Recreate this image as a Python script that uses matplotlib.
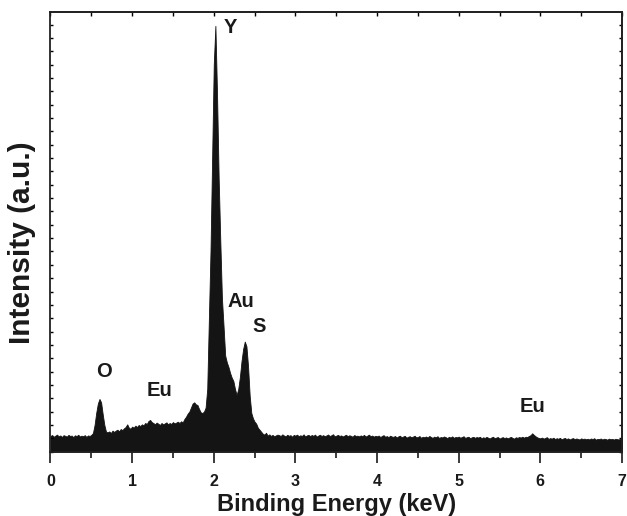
"""
EDS spectrum - Y / Au / S / O / Eu
"""
import numpy as np
import matplotlib
matplotlib.use("Agg")
import matplotlib.pyplot as plt
from matplotlib.ticker import MultipleLocator

plt.rcParams["font.family"] = ["Liberation Sans", "DejaVu Sans"]
plt.rcParams["font.weight"] = "bold"

# channel width of the spectrum (keV); counts start at 0 keV
CHANNEL_WIDTH = 0.02

# counts per channel, 0.00 .. 7.00 keV (10 channels per row = 0.2 keV)
COUNTS = [
    118, 125, 112, 120, 128, 115, 122, 110, 124, 119,   # 0.0
    113, 126, 118, 121, 109, 123, 117, 127, 114, 120,   # 0.2
    116, 124, 111, 122, 118, 126, 140, 200, 290, 360,   # 0.4
    395, 370, 280, 200, 150, 145, 152, 140, 158, 148,   # 0.6
    158, 165, 152, 170, 162, 175, 185, 205, 180, 172,   # 0.8
    188, 180, 195, 185, 200, 192, 205, 198, 215, 208,   # 1.0
    230, 238, 222, 215, 205, 218, 210, 200, 215, 205,   # 1.2
    212, 220, 205, 215, 208, 222, 212, 218, 225, 215,   # 1.4
    228, 220, 245, 262, 285, 300, 330, 360, 370, 355,   # 1.6
    350, 320, 295, 290, 300, 330, 470, 990, 1500, 2200,  # 1.8
    2900, 3190, 2680, 2050, 1580, 1150, 940, 720, 670, 635,  # 2.0
    590, 555, 530, 470, 425, 470, 560, 680, 770, 825,   # 2.2
    790, 640, 420, 290, 250, 225, 210, 180, 165, 150,   # 2.4
    135, 128, 142, 120, 130, 118, 126, 115, 122, 128,   # 2.6
    124, 118, 130, 121, 115, 127, 119, 124, 112, 126,   # 2.8
    120, 128, 116, 123, 118, 130, 114, 122, 126, 117,   # 3.0
    125, 119, 128, 113, 121, 127, 118, 124, 116, 122,   # 3.2
    129, 117, 123, 131, 115, 120, 126, 118, 122, 114,   # 3.4
    121, 127, 116, 123, 119, 112, 125, 118, 120, 115,   # 3.6
    122, 117, 126, 114, 120, 128, 116, 121, 113, 119,   # 3.8
    115, 121, 110, 118, 124, 112, 117, 109, 120, 114,   # 4.0
    111, 118, 106, 115, 120, 108, 114, 119, 105, 112,   # 4.2
    116, 109, 113, 120, 107, 111, 117, 104, 112, 108,   # 4.4
    114, 106, 118, 110, 104, 113, 108, 116, 103, 110,   # 4.6
    107, 114, 109, 102, 112, 106, 115, 104, 110, 108,   # 4.8
    113, 105, 110, 116, 103, 109, 112, 101, 108, 111,   # 5.0
    104, 110, 106, 112, 100, 108, 103, 111, 105, 99,    # 5.2
    107, 112, 101, 106, 110, 98, 105, 109, 102, 107,    # 5.4
    100, 106, 111, 103, 98, 108, 104, 110, 106, 112,    # 5.6
    105, 112, 110, 118, 124, 138, 126, 116, 108, 103,   # 5.8
    100, 106, 98, 103, 109, 96, 102, 98, 105, 95,       # 6.0
    101, 97, 104, 93, 99, 103, 95, 100, 92, 98,         # 6.2
    102, 94, 99, 96, 91, 100, 95, 98, 93, 97,           # 6.4
    92, 99, 95, 101, 90, 96, 94, 99, 91, 97,            # 6.6
    95, 90, 98, 93, 96, 91, 97, 94, 92, 96,             # 6.8
    98,                                                 # 7.0
]

# peak labels: (text, energy keV, counts)
PEAK_LABELS = [
    ("Y", 2.20, 3180),
    ("Au", 2.33, 1125),
    ("S", 2.55, 935),
    ("O", 0.655, 600),
    ("Eu", 1.34, 455),
    ("Eu", 5.90, 335),
]

FILL_COLOR = "#141414"

energy = np.arange(len(COUNTS)) * CHANNEL_WIDTH
counts = np.array(COUNTS, dtype=float)

fig = plt.figure(figsize=(6.27, 5.16), dpi=100)
ax = fig.add_axes([0.0805, 0.1246, 0.9115, 0.8512])

ax.fill_between(energy, counts, 0, color=FILL_COLOR, linewidth=0.6,
                edgecolor=FILL_COLOR)

for txt, ex, ey in PEAK_LABELS:
    ax.text(ex, ey, txt, ha="center", va="center", fontsize=14.5,
            fontweight="bold", color="#1a1a1a")

ax.set_xlim(0, 7)
ax.set_ylim(0, 3290)

# bottom axis: outward ticks, labelled integers
ax.xaxis.set_major_locator(MultipleLocator(1))
ax.xaxis.set_minor_locator(MultipleLocator(0.5))
ax.tick_params(axis="x", which="major", direction="out", length=8,
               width=1.2, labelsize=11.5, pad=8, colors="#1a1a1a")
ax.tick_params(axis="x", which="minor", direction="out", length=4,
               width=1.2, colors="#1a1a1a")
ax.set_xticklabels([f"{int(v)}" for v in ax.get_xticks()], fontweight="bold")

# left axis: small inward ticks, no labels
ax.yaxis.set_major_locator(MultipleLocator(100))
ax.tick_params(axis="y", which="both", direction="in", length=2.5,
               width=1.0, labelleft=False)

# top and right: ticks only
top = ax.secondary_xaxis("top")
top.xaxis.set_major_locator(MultipleLocator(0.5))
top.tick_params(direction="in", length=3, width=1.0, labeltop=False)
right = ax.secondary_yaxis("right")
right.yaxis.set_major_locator(MultipleLocator(100))
right.tick_params(direction="in", length=2.5, width=1.0, labelright=False)

for a in (ax, top, right):
    for sp in a.spines.values():
        sp.set_linewidth(1.3)
        sp.set_color("#222222")

ax.set_xlabel("Binding Energy (keV)", fontsize=17, fontweight="bold",
              labelpad=3, color="#1a1a1a")
ax.set_ylabel("Intensity (a.u.)", fontsize=21.5, fontweight="bold",
              color="#1a1a1a")
ax.yaxis.set_label_coords(-0.026, 0.475)

fig.savefig("out.png", dpi=100)
